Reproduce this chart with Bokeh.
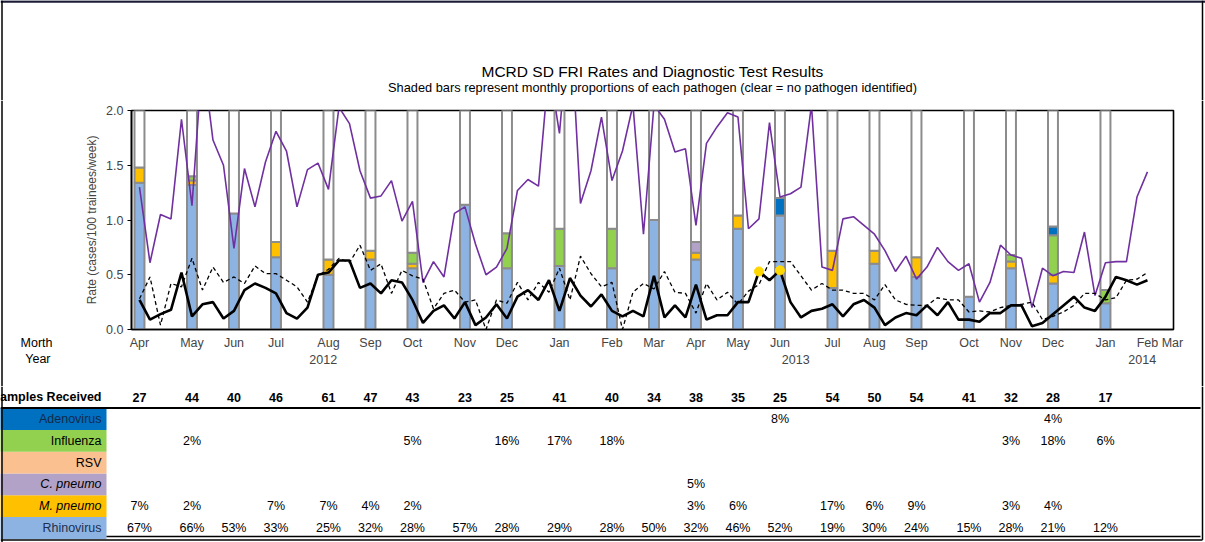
from bokeh.plotting import figure
from bokeh.layouts import column, row
from bokeh.models import (Range1d, FixedTicker, LinearAxis, NumeralTickFormatter)
from bokeh.embed import file_html
from bokeh.resources import INLINE
from bokeh.core.properties import value

# ---------------- data ----------------
title_text = "MCRD SD FRI Rates and Diagnostic Test Results"
subtitle_text = ("Shaded bars represent monthly proportions of each pathogen "
                 "(clear = no pathogen identified)")
month_labels = ["Apr", "May", "Jun", "Jul", "Aug", "Sep", "Oct", "Nov", "Dec",
                "Jan", "Feb", "Mar", "Apr", "May", "Jun", "Jul", "Aug", "Sep",
                "Oct", "Nov", "Dec", "Jan", "Feb", "Mar"]
month_weeks = [0, 5, 9, 13, 18, 22, 26, 31, 35, 40, 45, 49, 53, 57, 61, 66,
               70, 74, 79, 83, 87, 92, 96, 100]
year_labels = ["2012", "2013", "2014"]
year_weeks = [17.5, 62.5, 95.5]

samples_received = [27, 44, 40, 46, 61, 47, 43, 23, 25, 41, 40, 34, 38, 35,
                    25, 54, 50, 54, 41, 32, 28, 17]
pct_adenovirus = [0, 0, 0, 0, 0, 0, 0, 0, 0, 0, 0, 0, 0, 0, 8, 0, 0, 0, 0, 0, 4, 0]
pct_influenza = [0, 2, 0, 0, 0, 0, 5, 0, 16, 17, 18, 0, 0, 0, 0, 0, 0, 0, 0, 3, 18, 6]
pct_rsv = [0] * 22
pct_c_pneumo = [0, 0, 0, 0, 0, 0, 0, 0, 0, 0, 0, 0, 5, 0, 0, 0, 0, 0, 0, 0, 0, 0]
pct_m_pneumo = [7, 2, 0, 7, 7, 4, 2, 0, 0, 0, 0, 0, 3, 6, 0, 17, 6, 9, 0, 3, 4, 0]
pct_rhinovirus = [67, 66, 53, 33, 25, 32, 28, 57, 28, 29, 28, 50, 32, 46, 52,
                  19, 30, 24, 15, 28, 21, 12]

purple_rate = [1.30, 0.61, 1.05, 1.01, 1.92, 1.13, 2.50, 1.73, 1.50, 0.74,
               1.47, 1.12, 1.53, 1.81, 1.63, 1.12, 1.46, 1.52, 1.28, 2.03,
               1.88, 1.45, 1.20, 1.22, 1.36, 0.99, 1.17, 0.43, 0.62, 0.48,
               1.06, 1.12, 0.78, 0.50, 0.57, 0.74, 1.27, 1.37, 1.31, 2.40,
               1.79, 2.90, 1.15, 1.45, 1.94, 1.36, 1.63, 2.05, 0.87, 2.05,
               1.92, 1.62, 1.65, 0.95, 1.70, 1.85, 1.98, 1.94, 0.92, 1.01,
               1.89, 1.21, 1.24, 1.30, 2.05, 0.57, 0.54, 1.01, 1.03, 0.95,
               0.87, 0.72, 0.53, 0.67, 0.46, 0.57, 0.75, 0.62, 0.54, 0.60,
               0.25, 0.43, 0.77, 0.68, 0.65, 0.20, 0.56, 0.49, 0.53, 0.52,
               0.89, 0.31, 0.61, 0.62, 0.62, 1.21, 1.44]
solid_rate = [0.27, 0.09, 0.14, 0.18, 0.52, 0.12, 0.23, 0.25, 0.10, 0.17,
              0.36, 0.42, 0.38, 0.33, 0.15, 0.10, 0.20, 0.50, 0.52, 0.63,
              0.63, 0.38, 0.42, 0.33, 0.45, 0.43, 0.27, 0.06, 0.17, 0.22,
              0.10, 0.25, 0.04, 0.11, 0.23, 0.10, 0.30, 0.36, 0.27, 0.45,
              0.17, 0.47, 0.31, 0.21, 0.32, 0.17, 0.12, 0.17, 0.12, 0.49,
              0.11, 0.22, 0.11, 0.41, 0.09, 0.13, 0.13, 0.25, 0.25, 0.53,
              0.45, 0.54, 0.25, 0.11, 0.17, 0.19, 0.23, 0.12, 0.23, 0.27,
              0.20, 0.04, 0.11, 0.15, 0.13, 0.22, 0.13, 0.25, 0.09, 0.09,
              0.07, 0.15, 0.15, 0.22, 0.22, 0.03, 0.06, 0.14, 0.22, 0.30,
              0.20, 0.17, 0.30, 0.48, 0.45, 0.41, 0.45]
dashed_rate = [0.28, 0.48, 0.04, 0.42, 0.39, 0.65, 0.36, 0.57, 0.43, 0.48,
               0.42, 0.58, 0.51, 0.51, 0.45, 0.39, 0.25, 0.49, 0.55, 0.65,
               0.61, 0.77, 0.54, 0.60, 0.33, 0.54, 0.49, 0.46, 0.19, 0.33,
               0.36, 0.25, 0.27, 0.00, 0.27, 0.24, 0.43, 0.27, 0.43, 0.34,
               0.56, 0.27, 0.67, 0.51, 0.39, 0.43, 0.00, 0.34, 0.42, 0.37,
               0.53, 0.34, 0.33, 0.15, 0.42, 0.27, 0.34, 0.23, 0.35, 0.41,
               0.62, 0.62, 0.62, 0.49, 0.36, 0.42, 0.36, 0.36, 0.33, 0.33,
               0.27, 0.41, 0.27, 0.23, 0.22, 0.22, 0.29, 0.27, 0.27, 0.16,
               0.17, 0.16, 0.20, 0.22, 0.23, 0.25, 0.09, 0.12, 0.16, 0.22,
               0.33, 0.33, 0.27, 0.29, 0.45, 0.46, 0.52]
highlight_weeks = [59, 61]

# ---------------- layout constants (pixels) ----------------
FONT = "Liberation Sans"
TOTAL_W = 1205
HEAD_H = 100          # title block
CHART_H = 286         # chart band
TABLE_H = 156         # table block
LEFT_W = 80           # strip holding "Morth / Year"
RIGHT_W = 17          # strip holding the right border
BORDER_X = 1202       # page x of right border line
BL, BR, BT, BB = 51, 15, 10, 57
X0, X1 = -0.76, 98.48
Y_MAX = 2.0
CHART_W = TOTAL_W - LEFT_W - RIGHT_W
FRAME_W = CHART_W - BL - BR
PPW = FRAME_W / (X1 - X0)                 # pixels per week
FRAME_LEFT = LEFT_W + BL                  # page x of frame left edge
FRAME_RIGHT = FRAME_LEFT + FRAME_W
TABLE_TOP = HEAD_H + CHART_H
ROW_H = 21.8
ROW0_PAGE_Y = 527.5                       # page y of the bottom table row centre

weeks = list(range(len(purple_rate)))
bar_weeks = month_weeks[:len(samples_received)]


def blank(w, h, xr, yr):
    f = figure(width=w, height=h, x_range=xr, y_range=yr, output_backend="svg",
               toolbar_location=None, x_axis_type=None, y_axis_type=None,
               min_border=0, outline_line_color=None, frame_align=False)
    f.grid.visible = False
    return f


# ---------------- title block ----------------
head = blank(TOTAL_W, HEAD_H, Range1d(0, TOTAL_W), Range1d(0, HEAD_H))
cx = FRAME_LEFT + FRAME_W / 2
head.text(x=[cx], y=[HEAD_H - 71], text=[title_text], text_align="center",
          text_baseline="middle", text_font=value(FONT), text_font_size="15.5px",
          text_color="black")
head.text(x=[cx], y=[HEAD_H - 87], text=[subtitle_text], text_align="center",
          text_baseline="middle", text_font=value(FONT), text_font_size="12.8px",
          text_color="black")
head.line([0, TOTAL_W], [HEAD_H - 1, HEAD_H - 1], line_color="#1C1C38", line_width=2.5)
head.line([1.5, 1.5], [0, HEAD_H], line_color="black", line_width=1.5)
head.line([BORDER_X, BORDER_X], [0, HEAD_H], line_color="black", line_width=1.5)

# ---------------- left strip ----------------
strip = blank(LEFT_W, CHART_H, Range1d(0, LEFT_W), Range1d(0, CHART_H))
strip.text(x=[52, 50], y=[CHART_H - (342 - HEAD_H), CHART_H - (358 - HEAD_H)],
           text=["Morth", "Year"], text_align="right", text_baseline="middle",
           text_font=value(FONT), text_font_size="12.5px", text_color="black")
strip.line([1.5, 1.5], [0, CHART_H], line_color="black", line_width=1.5)

# ---------------- right strip ----------------
rstrip = blank(RIGHT_W, CHART_H, Range1d(TOTAL_W - RIGHT_W, TOTAL_W), Range1d(0, CHART_H))
rstrip.line([BORDER_X, BORDER_X], [0, CHART_H], line_color="black", line_width=1.5)

# ---------------- chart ----------------
p = figure(width=CHART_W, height=CHART_H, x_range=Range1d(X0, X1),
           y_range=Range1d(0, Y_MAX), output_backend="svg", toolbar_location=None,
           title=None, min_border_left=BL, min_border_right=BR, min_border_top=BT,
           min_border_bottom=BB, frame_align=False)
p.grid.visible = False
p.outline_line_color = "black"
p.outline_line_width = 1.6

p.yaxis.ticker = FixedTicker(ticks=[0, 0.5, 1.0, 1.5, 2.0])
p.yaxis.formatter = NumeralTickFormatter(format="0.0")
p.yaxis.axis_label = "Rate (cases/100 trainees/week)"
p.yaxis.axis_label_text_font = FONT
p.yaxis.axis_label_text_font_size = "12px"
p.yaxis.axis_label_text_font_style = "normal"
p.yaxis.axis_label_standoff = 4
p.yaxis.major_label_text_font = FONT
p.yaxis.major_label_text_font_size = "12.5px"
p.yaxis.major_tick_in = 0
p.yaxis.major_tick_out = 4
p.yaxis.minor_tick_line_color = None
p.yaxis.axis_line_width = 1.6
p.yaxis.major_label_standoff = 4

tick_pos = [min(w, X1 - 0.1) for w in month_weeks]
p.xaxis.ticker = FixedTicker(ticks=tick_pos)
p.xaxis.major_label_overrides = {t: m for t, m in zip(tick_pos, month_labels)}
p.xaxis.major_tick_line_color = None
p.xaxis.minor_tick_line_color = None
p.xaxis.axis_line_width = 1.6
p.xaxis.major_label_standoff = 0
p.xaxis.major_label_text_font = FONT
p.xaxis.major_label_text_font_size = "12.5px"

year_axis = LinearAxis(ticker=FixedTicker(ticks=year_weeks),
                       major_label_overrides={w: y for w, y in zip(year_weeks, year_labels)},
                       axis_line_color=None, major_tick_line_color=None,
                       minor_tick_line_color=None, major_label_standoff=-4,
                       major_label_text_font=FONT, major_label_text_font_size="12.5px")
p.add_layout(year_axis, "below")

# stacked proportion bars (a full bar = 100 % = top of axis)
layers = [(pct_rhinovirus, "#8DB3E2"), (pct_m_pneumo, "#FFC000"),
          (pct_c_pneumo, "#B3A2C7"), (pct_rsv, "#FAC090"),
          (pct_influenza, "#92D050"), (pct_adenovirus, "#0070C0")]
base = [0.0] * len(bar_weeks)
for vals, col in layers:
    xs, bots, tops = [], [], []
    for i, v in enumerate(vals):
        if v > 0:
            h = v / 100.0 * Y_MAX
            xs.append(bar_weeks[i]); bots.append(base[i]); tops.append(base[i] + h)
            base[i] += h
    if xs:
        p.vbar(x=xs, bottom=bots, top=tops, width=0.95, fill_color=col,
               line_color="#8C8C8C", line_width=2)
p.vbar(x=bar_weeks, bottom=base, top=[Y_MAX] * len(bar_weeks), width=0.95,
       fill_color="white", line_color="#8C8C8C", line_width=2)

p.line(weeks, purple_rate, line_color="#7030A0", line_width=1.6)
p.line(weeks, dashed_rate, line_color="black", line_width=1.3, line_dash="4 3")
p.line(weeks, solid_rate, line_color="black", line_width=2.6)
p.scatter(highlight_weeks, [solid_rate[w] for w in highlight_weeks], size=9,
          fill_color="#FFD700", line_color="#FFD700")

# ---------------- table ----------------
XB0 = X0 - FRAME_LEFT / PPW
XB1 = X1 + (TOTAL_W - FRAME_RIGHT) / PPW
yb1 = (ROW0_PAGE_Y - TABLE_TOP) / ROW_H
yb0 = (ROW0_PAGE_Y - (TABLE_TOP + TABLE_H)) / ROW_H
t = blank(TOTAL_W, TABLE_H, Range1d(XB0, XB1), Range1d(yb0, yb1))

row_names = ["Rhinovirus", "M. pneumo", "C. pneumo", "RSV", "Influenza", "Adenovirus"]
row_colors = ["#8DB3E2", "#FFC000", "#B3A2C7", "#FAC090", "#92D050", "#0070C0"]
row_styles = ["normal", "italic", "italic", "normal", "normal", "normal"]
row_text_colors = ["#1F2F4F", "black", "black", "black", "black", "#13294B"]
row_pcts = [pct_rhinovirus, pct_m_pneumo, pct_c_pneumo, pct_rsv, pct_influenza,
            pct_adenovirus]

box_right = XB0 + 106 / PPW
label_right = XB0 + 101 / PPW
line_end = XB0 + 1200 / PPW
border_x = XB0 + BORDER_X / PPW
n = len(row_names)
t.quad(left=[XB0 - 1] * n, right=[box_right] * n,
       bottom=[k - 0.5 for k in range(n)], top=[k + 0.5 for k in range(n)],
       fill_color=row_colors, line_color=None)

for k, name in enumerate(row_names):
    t.text(x=[label_right], y=[k], text=[name], text_align="right",
           text_baseline="middle", text_font=value(FONT), text_font_size="12.5px",
           text_font_style=row_styles[k], text_color=row_text_colors[k])
    xs = [bar_weeks[i] for i, v in enumerate(row_pcts[k]) if v > 0]
    ts = [f"{v}%" for v in row_pcts[k] if v > 0]
    if xs:
        t.text(x=xs, y=[k] * len(xs), text=ts, text_align="center",
               text_baseline="middle", text_font=value(FONT),
               text_font_size="12.5px", text_color="black")

hdr = n
t.text(x=[label_right], y=[hdr], text=["Samples Received"], text_align="right",
       text_baseline="middle", text_font=value(FONT), text_font_size="12.5px",
       text_font_style="bold", text_color="black")
t.text(x=bar_weeks, y=[hdr] * len(bar_weeks), text=[str(s) for s in samples_received],
       text_align="center", text_baseline="middle", text_font=value(FONT),
       text_font_size="12.5px", text_font_style="bold", text_color="black")
t.line([XB0, line_end], [hdr - 0.5, hdr - 0.5], line_color="black", line_width=2)
t.line([box_right, line_end], [-0.39, -0.39], line_color="black", line_width=1.5)
t.line([XB0, border_x], [yb0 + 0.12, yb0 + 0.12], line_color="black", line_width=1.5)
t.line([XB0 + 1.5 / PPW, XB0 + 1.5 / PPW], [yb0, yb1], line_color="black",
       line_width=1.5)
t.line([border_x, border_x], [yb0 + 0.12, yb1], line_color="black", line_width=1.5)

layout = column(head, row(strip, p, rstrip, spacing=0), t, spacing=0)
open("out.html", "w").write(file_html(layout, INLINE))
